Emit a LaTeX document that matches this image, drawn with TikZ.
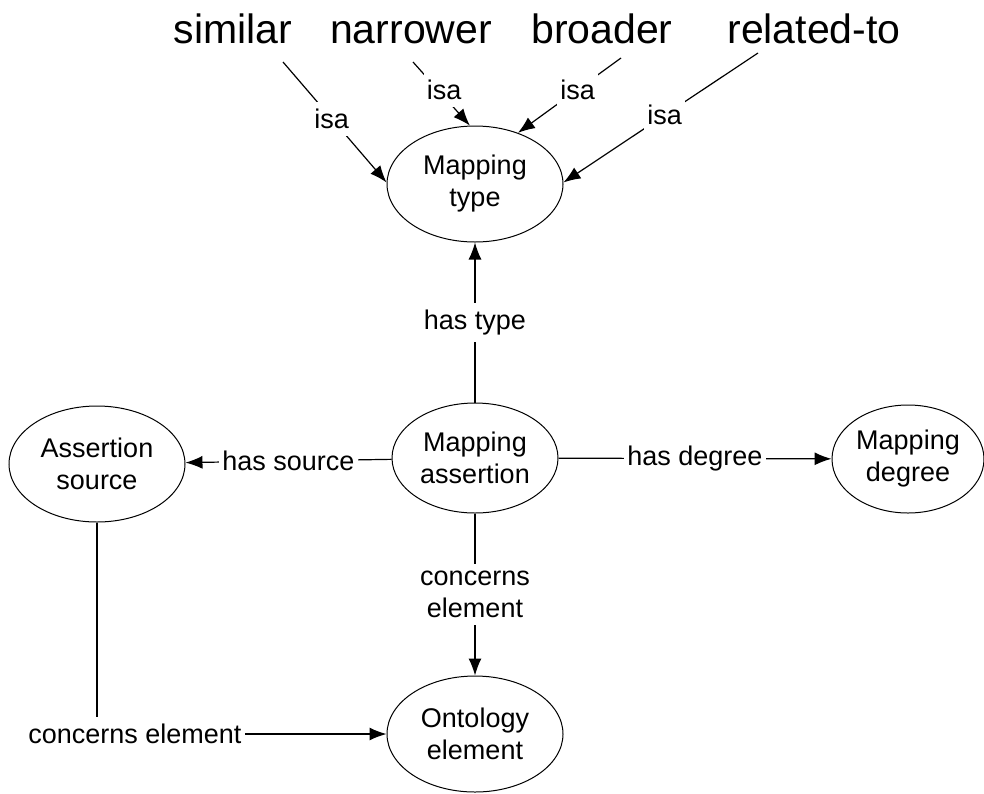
\documentclass[tikz,border=0pt]{standalone}
\usepackage{fontspec}
\setmainfont{Liberation Sans}
\usetikzlibrary{shapes.geometric,arrows.meta}
\newcommand{\concept}[4][]{%
 \node[concept,#1] ({#2}) at ({#3}) {#4};%
}
\newcommand{\relname}[3]{%
 \node[relname] ({#1}) at ({#2}) {#3};%
}

\begin{document}
\begin{tikzpicture}[x=1pt,y=-1pt,line width=1.2pt,
  concept/.style={ellipse,draw,line width=1pt,minimum width=176pt,minimum height=116pt,
    align=center,inner sep=0pt,font=\fontsize{27}{32}\selectfont},
  relname/.style={anchor=base,inner sep=0pt,font=\fontsize{41}{48}\selectfont},
  lbl/.style={fill=white,inner xsep=3pt,inner ysep=7pt,align=center,
    font=\fontsize{27}{32}\selectfont},
  >={Latex[length=17pt,width=13pt]}]
   \useasboundingbox (0,0) rectangle (984,793);
   \relname{sim}{233,43}{similar};
   \relname{nar}{411,43}{narrower};
   \relname{bro}{602,43}{broader};
   \relname{rel}{814,43}{related-to};
   \concept{mt}{475,184}{Mapping\\type};
   \concept[minimum width=166pt,minimum height=110pt]{ma}{475,458}{Mapping\\assertion};
   \concept{as}{97,464}{Assertion\\source};
   \concept[minimum width=152pt,minimum height=108pt]{md}{908,459}{Mapping\\degree};
   \concept{oe}{475,734}{Ontology\\element};
   \draw[->] ([shift={(50,19)}]sim.base) -- node[lbl,pos=.47] {isa} (mt.179);
   \draw[->] ([shift={(2,19)}]nar.base) -- node[lbl,pos=.44,xshift=6pt] {isa} (mt.95);
   \draw[->] ([shift={(19,15)}]bro.base) -- node[lbl,pos=.42] {isa} (mt.50);
   \draw[->] ([shift={(-56,10)}]rel.base) -- node[lbl,pos=.48] {isa} (mt.1);
   \draw[->] (ma) -- node[lbl] {has type} (mt);
   \draw[->] (ma) -- node[lbl] {has source} (as);
   \draw[->] (ma) -- node[lbl] {has degree} (md);
   \draw[->] (ma) -- node[lbl] {concerns\\element} (oe);
   \draw[->] (as) |- node[lbl,pos=.5,xshift=38pt] {concerns element} (oe);
\end{tikzpicture}
\end{document}
